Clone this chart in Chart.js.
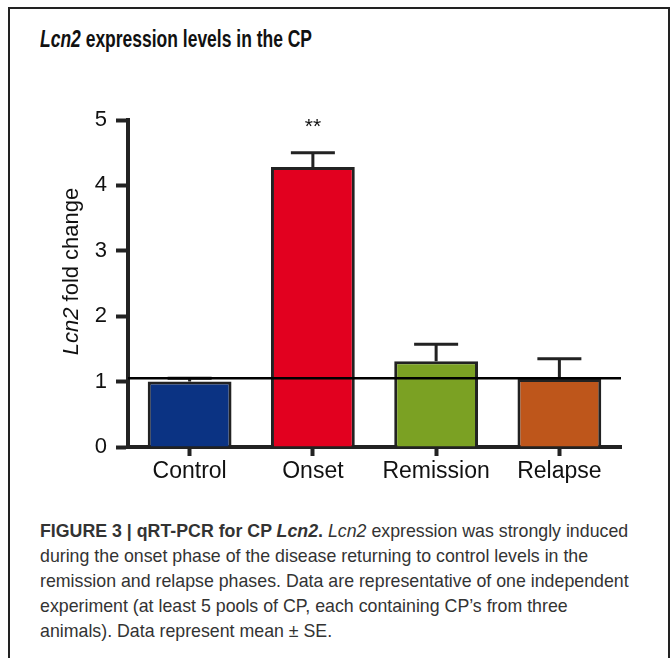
<!DOCTYPE html>
<html>
<head>
<meta charset="utf-8">
<script src="https://cdn.jsdelivr.net/npm/chart.js"></script>
<style>
body { margin: 0; background: #fff; }
#moldura { position: absolute; left: 8px; top: 7px; width: 658px; height: 660px; border: 2px solid #222; border-bottom: none; }
#titulo { position: absolute; left: 40px; top: 26px; font: bold 23px "Liberation Sans", Arial, sans-serif; color: #111; white-space: nowrap; transform: scaleX(0.76); transform-origin: left top; }
#grafico { position: absolute; left: 0; top: 0; width: 670px; height: 500px; }
#legenda { position: absolute; left: 40px; top: 518px; font: 19px/25px "Liberation Sans", Arial, sans-serif; color: #333; white-space: nowrap; transform: scaleX(0.935); transform-origin: left top; }
</style>
</head>
<body>
<div id="moldura"></div>
<div id="titulo"><i>Lcn2</i> expression levels in the CP</div>
<div id="grafico"><canvas id="myChart" width="670" height="500"></canvas></div>
<div id="legenda"><b>FIGURE 3 | qRT-PCR for CP <i>Lcn2</i>.</b> <i>Lcn2</i> expression was strongly induced<br>during the onset phase of the disease returning to control levels in the<br>remission and relapse phases. Data are representative of one independent<br>experiment (at least 5 pools of CP, each containing CP’s from three<br>animals). Data represent mean ± SE.</div>
<script>
// dados
const categorias = ['Control', 'Onset', 'Remission', 'Relapse'];
const valores = [1.0, 4.28, 1.31, 1.04];
const erros = [0.05, 0.22, 0.26, 0.31];
const marcas = ['', '**', '', ''];
const cores = ['#0b3383', '#e2001f', '#7ba123', '#be561b'];
const ticksY = [0, 1, 2, 3, 4, 5];
const linhaControle = 1.05;

const extras = {
    id: 'extras',
    afterDatasetsDraw(chart) {
        const ctx = chart.ctx;
        const area = chart.chartArea;
        const x = chart.scales.x, y = chart.scales.y;
        ctx.save();
        // barras de erro
        ctx.strokeStyle = '#222';
        ctx.lineWidth = 3;
        valores.forEach(function(v, i) {
            const cx = x.getPixelForValue(i);
            const yTopo = y.getPixelForValue(v);
            const yErro = y.getPixelForValue(v + erros[i]);
            ctx.beginPath();
            ctx.moveTo(cx, yTopo);
            ctx.lineTo(cx, yErro);
            ctx.moveTo(cx - 22, yErro);
            ctx.lineTo(cx + 22, yErro);
            ctx.stroke();
            if (marcas[i]) {
                ctx.fillStyle = '#111';
                ctx.font = '21px "Liberation Sans", Arial';
                ctx.textAlign = 'center';
                ctx.textBaseline = 'middle';
                ctx.fillText(marcas[i], cx, yErro - 25);
            }
        });
        // linha de referencia
        const yRef = y.getPixelForValue(linhaControle);
        ctx.strokeStyle = '#000';
        ctx.lineWidth = 2.5;
        ctx.beginPath();
        ctx.moveTo(area.left, yRef);
        ctx.lineTo(area.right, yRef);
        ctx.stroke();
        // titulo do eixo y (Lcn2 em italico)
        ctx.fillStyle = '#111';
        ctx.textBaseline = 'middle';
        ctx.textAlign = 'left';
        const fIt = 'italic 22px "Liberation Sans", Arial';
        const fReg = '22px "Liberation Sans", Arial';
        ctx.font = fIt;
        const w1 = ctx.measureText('Lcn2').width;
        ctx.font = fReg;
        const w2 = ctx.measureText(' fold change').width;
        ctx.translate(72, (area.top + area.bottom) / 2 - 12);
        ctx.rotate(-Math.PI / 2);
        const x0 = -(w1 + w2) / 2;
        ctx.font = fIt;
        ctx.fillText('Lcn2', x0, 0);
        ctx.font = fReg;
        ctx.fillText(' fold change', x0 + w1, 0);
        ctx.restore();
    }
};

var ctx = document.getElementById('myChart');
var myChart = new Chart(ctx, {
    type: 'bar',
    data: {
        labels: categorias,
        datasets: [{
            data: valores,
            backgroundColor: cores,
            borderColor: '#222',
            borderWidth: 3,
            borderSkipped: 'bottom',
            barPercentage: 0.68,
            categoryPercentage: 1
        }]
    },
    options: {
        responsive: false,
        animation: false,
        layout: { padding: { top: 120, right: 49, left: 0, bottom: 0 } },
        plugins: {
            legend: { display: false },
            tooltip: { enabled: false }
        },
        scales: {
            x: {
                offset: true,
                grid: { offset: false, drawOnChartArea: false, drawTicks: true, tickLength: 9, tickWidth: 4, tickColor: '#222' },
                border: { display: true, width: 4, color: '#222' },
                ticks: { color: '#111', font: { size: 23, family: '"Liberation Sans", Arial' }, padding: 2 },
                afterFit: function(s) { s.height = 53; }
            },
            y: {
                min: 0,
                max: 5,
                afterBuildTicks: function(s) { s.ticks = ticksY.map(function(v) { return { value: v }; }); },
                grid: { drawOnChartArea: false, drawTicks: true, tickLength: 12, tickWidth: 4, tickColor: '#222' },
                border: { display: true, width: 4, color: '#222' },
                ticks: { color: '#111', font: { size: 22, family: '"Liberation Sans", Arial' }, padding: 9 },
                afterFit: function(s) { s.width = 128; }
            }
        }
    },
    plugins: [extras]
});
</script>
</body>
</html>
